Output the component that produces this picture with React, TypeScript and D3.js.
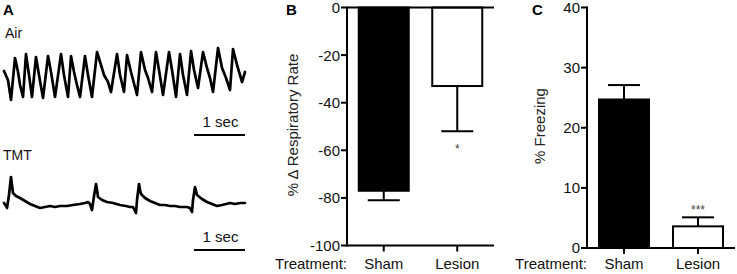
import React from "react";
import * as d3 from "d3";

// ---------- Panel A traces (time in s, signal in arbitrary units) ----------
const airTime = [0,0.078,0.137,0.216,0.275,0.314,0.373,0.431,0.49,0.549,0.627,0.686,0.765,0.863,0.922,1.0,1.118,1.176,1.255,1.314,1.373,1.431,1.49,1.588,1.647,1.725,1.824,1.902,1.961,2.039,2.098,2.216,2.275,2.353,2.412,2.49,2.608,2.686,2.765,2.824,2.902,2.98,3.039,3.118,3.235,3.294,3.373,3.451,3.51,3.588,3.667,3.725,3.804,3.902,3.98,4.039,4.098,4.196,4.275,4.353,4.431,4.49,4.569,4.627,4.667,4.725];
const airSignal = [2.9,2.0,0.0,4.2,2.8,1.5,0.3,4.6,2.5,0.3,4.3,2.5,0.2,4.4,2.8,0.3,4.6,2.5,0.3,4.4,2.8,1.5,0.3,4.4,2.5,0.3,4.8,3.5,2.5,1.8,0.8,4.6,2.5,0.8,4.5,2.8,0.5,4.8,3.0,2.2,0.8,4.8,3.0,0.5,4.8,3.0,0.3,4.6,2.5,0.5,4.9,3.0,1.2,4.8,3.2,2.2,0.8,5.2,3.2,2.2,1.0,5.1,3.5,2.5,1.8,2.8];

const tmtTime = [0,0.039,0.059,0.098,0.137,0.157,0.176,0.235,0.314,0.412,0.51,0.608,0.706,0.804,0.902,1.0,1.098,1.235,1.353,1.49,1.588,1.647,1.686,1.725,1.765,1.804,1.824,1.843,1.922,2.02,2.137,2.275,2.392,2.471,2.529,2.549,2.588,2.608,2.647,2.667,2.686,2.765,2.863,2.961,3.059,3.157,3.255,3.353,3.451,3.588,3.647,3.686,3.706,3.745,3.765,3.784,3.882,3.98,4.078,4.176,4.275,4.353,4.431,4.529,4.627,4.725];
const tmtSignal = [1.2,0.9,0.7,2.0,3.8,3.0,2.2,1.9,1.7,1.4,1.1,0.9,0.7,0.8,0.9,0.8,0.9,0.9,1.0,1.1,1.2,1.3,1.1,0.5,1.9,3.1,2.5,1.8,1.5,1.3,1.2,1.0,0.9,0.8,0.8,0.6,0.2,1.5,3.1,2.5,2.1,1.7,1.4,1.2,1.0,1.0,0.9,0.9,0.8,0.8,0.7,0.3,1.5,2.8,2.4,2.0,1.6,1.3,1.1,0.9,1.0,1.1,1.2,1.1,1.2,1.2];

// ---------- Panel B / C bar data ----------
const categories = ["Sham", "Lesion"];
const respRate = [-77, -33];
const respRateErr = [4, 19];
const respTicks = [0, -20, -40, -60, -80, -100];
const freezing = [24.7, 3.6];
const freezingErr = [2.4, 1.5];
const freezingTicks = [0, 10, 20, 30, 40];
const respSig = ["", "*"];
const freezeSig = ["", "***"];

const FONT = "'Liberation Sans', Arial, Helvetica, sans-serif";

function Trace({ time, signal, y0, y1, dom }: { time: number[]; signal: number[]; y0: number; y1: number; dom: [number, number] }) {
  const x = d3.scaleLinear().domain([0, 4.725]).range([4, 245]);
  const y = d3.scaleLinear().domain(dom).range([y0, y1]);
  const line = d3.line<number>().x((_, i) => x(time[i])).y((d) => y(d));
  return <path d={line(signal) || ""} fill="none" stroke="#000" strokeWidth={2.7} strokeLinejoin="round" strokeLinecap="round" />;
}

function ScaleBar({ y, textY }: { y: number; textY: number }) {
  const x = d3.scaleLinear().domain([0, 4.725]).range([4, 245]);
  const xs = x(4.725 - 1);
  const xe = x(4.725);
  return (
    <g>
      <line x1={xs} x2={xe} y1={y} y2={y} stroke="#000" strokeWidth={2.2} />
      <text x={(xs + xe) / 2 + 1} y={textY} textAnchor="middle" fontSize={15} fontFamily={FONT} fill="#111">1 sec</text>
    </g>
  );
}

function BarPanel(props: {
  x0: number; x1: number; yTop: number; yBot: number; domain: [number, number];
  values: number[]; errs: number[]; ticks: number[]; title: string; titleX: number; titleY: number;
  sig: string[]; sigGap: number; topLine: boolean; label: string; labelX: number;
}) {
  const { x0, x1, yTop, yBot, domain, values, errs, ticks, title, titleX, titleY, sig, sigGap, topLine, label, labelX } = props;
  const x = d3.scalePoint<string>().domain(categories).range([x0, x1]).padding(0.5);
  const y = d3.scaleLinear().domain(domain).range([yBot, yTop]);
  const base = domain[0] < 0 ? 0 : domain[0];
  const bw = 50;
  const cap = 32;
  const axisBottom = y(domain[0]);
  return (
    <g fontFamily={FONT}>
      {values.map((v, i) => {
        const cx = x(categories[i])!;
        const top = Math.min(y(v), y(base));
        const h = Math.abs(y(v) - y(base));
        const ev = v < 0 ? v - errs[i] : v + errs[i];
        return (
          <g key={i}>
            <line x1={cx} x2={cx} y1={y(v)} y2={y(ev)} stroke="#000" strokeWidth={2} />
            <line x1={cx - cap / 2} x2={cx + cap / 2} y1={y(ev)} y2={y(ev)} stroke="#000" strokeWidth={2} />
            <rect x={cx - bw / 2} y={top} width={bw} height={h} fill={i === 0 ? "#000" : "#fff"} stroke="#000" strokeWidth={2} />
            {sig[i] && (
              <text x={cx} y={v < 0 ? y(ev) + sigGap : y(ev) - sigGap} textAnchor="middle" fontSize={12} fill="#444">{sig[i]}</text>
            )}
          </g>
        );
      })}
      {/* y axis */}
      <line x1={x0} x2={x0} y1={yTop - 1} y2={yBot + 1} stroke="#000" strokeWidth={2} />
      {ticks.map((t) => (
        <g key={t}>
          <line x1={x0 - 6} x2={x0} y1={y(t)} y2={y(t)} stroke="#000" strokeWidth={2} />
          <text x={x0 - 7} y={y(t)} dy="0.36em" textAnchor="end" fontSize={15} fill="#111">{t}</text>
        </g>
      ))}
      {/* x axis */}
      <line x1={x0} x2={x1} y1={axisBottom} y2={axisBottom} stroke="#000" strokeWidth={2} />
      {topLine && <line x1={x0} x2={x1} y1={y(0)} y2={y(0)} stroke="#000" strokeWidth={2} />}
      {categories.map((c) => (
        <g key={c}>
          <line x1={x(c)!} x2={x(c)!} y1={axisBottom} y2={axisBottom + 6} stroke="#000" strokeWidth={2} />
          <text x={x(c)!} y={269} textAnchor="middle" fontSize={15} fill="#111">{c}</text>
        </g>
      ))}
      <text x={x0} y={269} textAnchor="end" fontSize={15} fill="#111">Treatment:</text>
      <text transform={`translate(${titleX},${titleY}) rotate(-90)`} textAnchor="middle" dy="0.35em" fontSize={15} fill="#222">{title}</text>
      <text x={labelX} y={15} fontSize={15} fontWeight="bold" fill="#000">{label}</text>
    </g>
  );
}

export default function App() {
  return (
    <svg width={737} height={274} style={{ position: "absolute", left: 0, top: 0, background: "#fff" }}>
      <rect width={737} height={274} fill="#fff" />
      {/* Panel A */}
      <g fontFamily={FONT}>
        <text x={3} y={15} fontSize={15} fontWeight="bold">A</text>
        <text x={5} y={38} fontSize={14} fill="#111">Air</text>
        <text x={3} y={160} fontSize={14} fill="#111">TMT</text>
      </g>
      <Trace time={airTime} signal={airSignal} y0={100} y1={48} dom={[0, 5.2]} />
      <ScaleBar y={135} textY={127} />
      <Trace time={tmtTime} signal={tmtSignal} y0={215} y1={175} dom={[0, 4]} />
      <ScaleBar y={250} textY={242} />
      <BarPanel x0={347} x1={494} yTop={7.5} yBot={245.5} domain={[-100, 0]} values={respRate} errs={respRateErr}
        ticks={respTicks} title="% Δ Respiratory Rate" titleX={293} titleY={125} sig={respSig} sigGap={22}
        topLine={true} label="B" labelX={286} />
      <BarPanel x0={587} x1={735} yTop={7.5} yBot={248} domain={[0, 40]} values={freezing} errs={freezingErr}
        ticks={freezingTicks} title="% Freezing" titleX={540} titleY={126} sig={freezeSig} sigGap={3}
        topLine={false} label="C" labelX={532} />
    </svg>
  );
}
